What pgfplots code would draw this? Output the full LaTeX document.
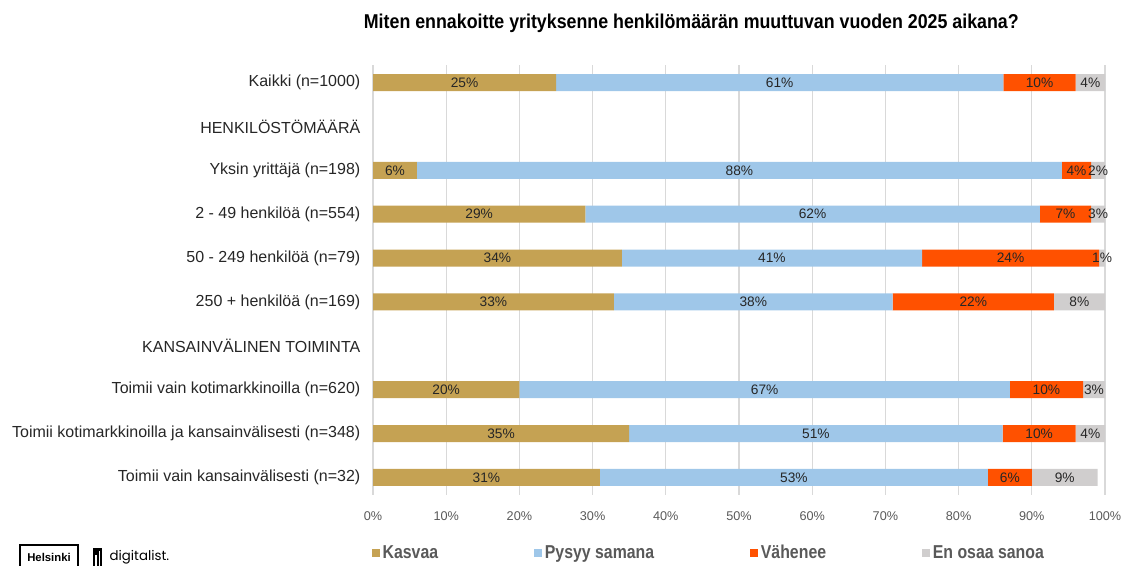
\documentclass[border=0pt]{standalone}
\usepackage{fontspec}
\setmainfont{Liberation Sans}
\newfontfamily\narrowfont[FakeStretch=0.89]{Liberation Sans}
\newfontfamily\legendfont[FakeStretch=0.85]{Liberation Sans}
\newfontfamily\logofont{Poppins}
\usepackage{pgfplots}
\usepackage{pgfplotstable}
\pgfplotsset{compat=1.18}
\definecolor{kasvaa}{HTML}{C5A253}
\definecolor{pysyy}{HTML}{9FC7E9}
\definecolor{vahenee}{HTML}{FF5100}
\definecolor{eos}{HTML}{D0CECE}
\definecolor{gridgray}{HTML}{D9D9D9}
\definecolor{labelgray}{HTML}{262626}
\definecolor{tickgray}{HTML}{595959}

% y = row (0 at top), a-d = bar lengths as drawn, la-ld = printed labels
\pgfplotstableread{
y a b c d la lb lc ld
0 25 61.1 9.9 4.0 25 61 10 4
2 6 88.1 4.0 1.9 6 88 4 2
3 29 62.1 7.0 1.9 29 62 7 3
4 34 41.0 24.2 0.8 34 41 24 1
5 32.9 38.1 22.0 7.0 33 38 22 8
7 20 67.0 10.0 3.0 20 67 10 3
8 35 51.0 10.0 4.0 35 51 10 4
9 31 53.0 6.0 9.0 31 53 6 9
}\answers

\begin{document}
\begin{tikzpicture}
\useasboundingbox (0,0) rectangle (843pt,-423.75pt);
\node[font=\narrowfont\bfseries\fontsize{15}{18}\selectfont] at (518.5pt,-17.5pt) {Miten ennakoitte yrityksenne henkilömäärän muuttuvan vuoden 2025 aikana?};
\begin{axis}[
  at={(279.75pt,-371.25pt)}, anchor=south west,
  scale only axis, width=549pt, height=322.5pt,
  xbar stacked, bar width=12.75pt,
  xmin=0, xmax=100, ymin=-0.4, ymax=9.4, y dir=reverse,
  axis line style={draw=none}, major tick length=0pt,
  xtick={0,10,...,100},
  xticklabel={\pgfmathprintnumber{\tick}\%},
  xticklabel style={font=\fontsize{9.5}{11}\selectfont, text=tickgray, yshift=-9pt},
  /pgf/number format/assume math mode=true,
  ytick={0,...,9},
  yticklabels={Kaikki (n=1000), HENKILÖSTÖMÄÄRÄ, Yksin yrittäjä (n=198), 2 - 49 henkilöä (n=554), 50 - 249 henkilöä (n=79), 250 + henkilöä (n=169), KANSAINVÄLINEN TOIMINTA, Toimii vain kotimarkkinoilla (n=620), Toimii kotimarkkinoilla ja kansainvälisesti (n=348), Toimii vain kansainvälisesti (n=32)},
  yticklabel style={font=\fontsize{12}{14}\selectfont, text=labelgray, xshift=-6pt},
  xmajorgrids, grid style={gridgray, line width=0.8pt},
  point meta=explicit symbolic,
  nodes near coords={\pgfplotspointmeta\%},
  every node near coord/.append style={anchor=center, font=\fontsize{10.3}{12}\selectfont, text=labelgray},
  sq/.style={legend image code/.code={\fill[##1] (0pt,-3pt) rectangle (6pt,3pt);}},
  legend columns=4,
  legend style={at={(0,0)}, anchor=west, xshift=-1pt, yshift=-43.5pt, draw=none, inner sep=0pt,
    font=\legendfont\bfseries\fontsize{14}{16}\selectfont, text=tickgray,
    /tikz/every even column/.append style={column sep=70pt}},
]
\addplot[fill=kasvaa, draw=none, sq] table[x=a, y=y, meta=la]{\answers};
\addplot[fill=pysyy, draw=none, sq] table[x=b, y=y, meta=lb]{\answers};
\addplot[fill=vahenee, draw=none, sq] table[x=c, y=y, meta=lc]{\answers};
\addplot[fill=eos, draw=none, sq] table[x=d, y=y, meta=ld]{\answers};
\legend{Kasvaa, Pysyy samana, Vähenee, En osaa sanoa}
\end{axis}
% logos
\draw[line width=0.8pt] (15pt,-408.75pt) rectangle (58.5pt,-432pt);
\node[font=\bfseries\fontsize{8.5}{10}\selectfont] at (36.75pt,-418pt) {Helsinki};
\fill (69.75pt,-411pt) rectangle (76.5pt,-430pt);
\fill[white] (71.5pt,-416pt) rectangle (72.6pt,-430pt);
\fill[white] (74pt,-413pt) rectangle (75.1pt,-430pt);
\node[anchor=west, inner sep=0pt, font=\logofont\fontsize{10}{12}\selectfont] at (82pt,-418pt) {digitalist.};
\end{tikzpicture}
\end{document}
